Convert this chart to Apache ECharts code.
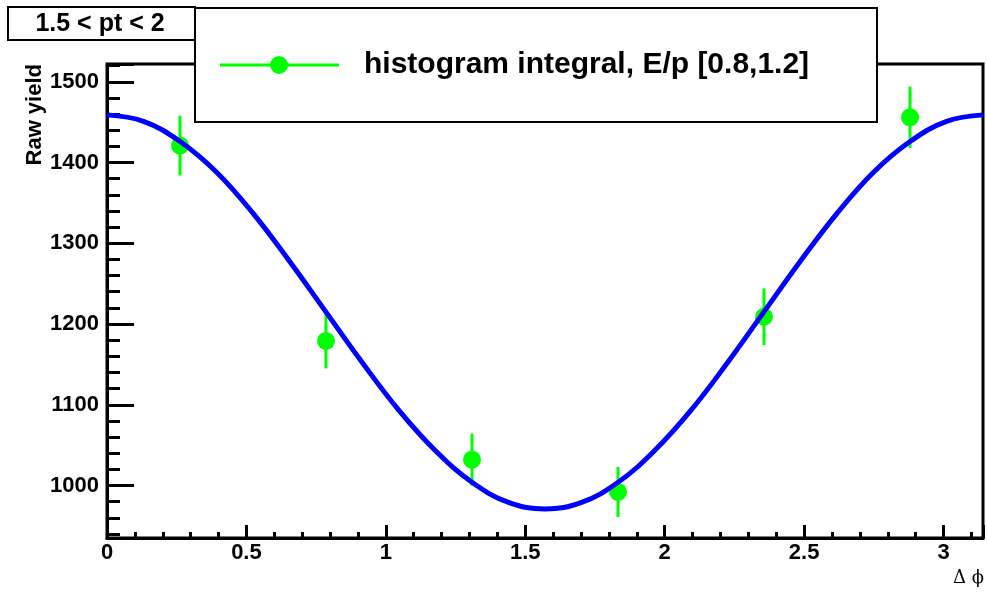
<!DOCTYPE html>
<html>
<head>
<meta charset="utf-8">
<script src="https://cdn.jsdelivr.net/npm/echarts@6/dist/echarts.min.js"></script>
<style>html,body{margin:0;padding:0;background:#fff}#c{width:987px;height:595px}</style>
</head>
<body>
<div id="c"></div>
<script>
// Data points (bin centres in delta phi), raw yields and their errors
const phiBins = [0.2618, 0.7854, 1.3090, 1.8326, 2.3562, 2.8798];
const yields = [1421, 1179, 1032, 992, 1209, 1456];
const errors = [37, 34, 32, 31, 35, 38];
// Fit curve
const fitX = [0, 0.131, 0.262, 0.393, 0.524, 0.654, 0.785, 0.916, 1.047, 1.178, 1.309, 1.440, 1.571,
              1.702, 1.833, 1.963, 2.094, 2.225, 2.356, 2.487, 2.618, 2.749, 2.880, 3.011, 3.1416];
const fitY = [1459, 1451, 1426, 1388, 1337, 1278, 1215, 1152, 1093, 1043, 1004, 979, 971,
              979, 1004, 1043, 1093, 1152, 1215, 1278, 1337, 1388, 1426, 1451, 1459];
const titleText = '1.5 < pt < 2';
const legendText = 'histogram integral, E/p [0.8,1.2]';
const yTitle = 'Raw yield';
const xTitle = '\u0394 \u03d5';

const FONT = '"Liberation Sans", Arial, Helvetica, sans-serif';
const chart = echarts.init(document.getElementById('c'), null, {renderer: 'canvas'});

const pointData = phiBins.map((x, i) => [x, yields[i]]);
const errData = phiBins.map((x, i) => [x, yields[i] - errors[i], yields[i] + errors[i]]);
const fitData = fitX.map((x, i) => [x, fitY[i]]);

chart.setOption({
  animation: false,
  backgroundColor: '#fff',
  grid: {left: 107, right: 4, top: 64, bottom: 57, show: true, borderColor: '#000', borderWidth: 3, backgroundColor: 'transparent'},
  xAxis: {
    type: 'value', min: 0, max: Math.PI, interval: 0.5,
    axisLine: {lineStyle: {color: '#000', width: 3}},
    axisTick: {inside: true, length: 13, lineStyle: {color: '#000', width: 3}},
    minorTick: {show: true, splitNumber: 5, length: 6, lineStyle: {color: '#000', width: 3}},
    splitLine: {show: false},
    axisLabel: {
      color: '#000', fontFamily: FONT, fontWeight: 'bold', fontSize: 22, margin: 4,
      formatter: v => (Math.abs(v * 2 - Math.round(v * 2)) < 1e-6 ? String(v) : '')
    }
  },
  yAxis: {
    type: 'value', min: 935, max: 1522, splitNumber: 5,
    axisLine: {lineStyle: {color: '#000', width: 3}},
    axisTick: {inside: true, length: 27, lineStyle: {color: '#000', width: 3}},
    minorTick: {show: true, splitNumber: 5, length: 13, lineStyle: {color: '#000', width: 3}},
    splitLine: {show: false},
    axisLabel: {
      color: '#000', fontFamily: FONT, fontWeight: 'bold', fontSize: 22, margin: 8,
      formatter: v => (v % 100 === 0 ? String(v) : '')
    }
  },
  series: [
    {
      type: 'custom', name: 'errors', data: errData, z: 2,
      renderItem: (params, api) => {
        const x = api.value(0);
        const p1 = api.coord([x, api.value(1)]);
        const p2 = api.coord([x, api.value(2)]);
        return {type: 'line', shape: {x1: p1[0], y1: p1[1], x2: p2[0], y2: p2[1]},
                style: {stroke: '#00ff00', lineWidth: 3}};
      }
    },
    {
      type: 'scatter', name: legendText, data: pointData, symbol: 'circle', symbolSize: 18, z: 3,
      itemStyle: {color: '#00ff00', opacity: 1}
    },
    {
      type: 'line', name: 'fit', data: fitData, smooth: 0.4, showSymbol: false, z: 4, clip: true,
      lineStyle: {color: '#0000ff', width: 5}
    }
  ],
  graphic: [
    {type: 'rect', shape: {x: 195, y: 8, width: 682, height: 114}, style: {fill: '#fff', stroke: '#000', lineWidth: 2}, z: 10},
    {type: 'rect', shape: {x: 8, y: 7, width: 187, height: 33}, style: {fill: '#fff', stroke: '#000', lineWidth: 2}, z: 11},
    {type: 'text', x: 100, y: 24, style: {text: titleText, font: 'bold 25px ' + FONT, fill: '#000', align: 'center', verticalAlign: 'middle'}, z: 12},
    {type: 'line', shape: {x1: 220, y1: 65, x2: 339, y2: 65}, style: {stroke: '#00ff00', lineWidth: 3}, z: 12},
    {type: 'circle', shape: {cx: 279, cy: 65, r: 9}, style: {fill: '#00ff00'}, z: 12},
    {type: 'text', x: 364, y: 65, style: {text: legendText, font: 'bold 30px ' + FONT, fill: '#000', align: 'left', verticalAlign: 'middle'}, z: 12},
    {type: 'text', x: 35, y: 64, rotation: Math.PI / 2, style: {text: yTitle, font: 'bold 22px ' + FONT, fill: '#000', align: 'right', verticalAlign: 'middle'}, z: 12},
    {type: 'text', x: 984, y: 578, style: {text: xTitle, font: '18px "DejaVu Serif", "Liberation Serif", serif', fill: '#000', align: 'right', verticalAlign: 'middle'}, z: 12}
  ]
});
</script>
</body>
</html>
